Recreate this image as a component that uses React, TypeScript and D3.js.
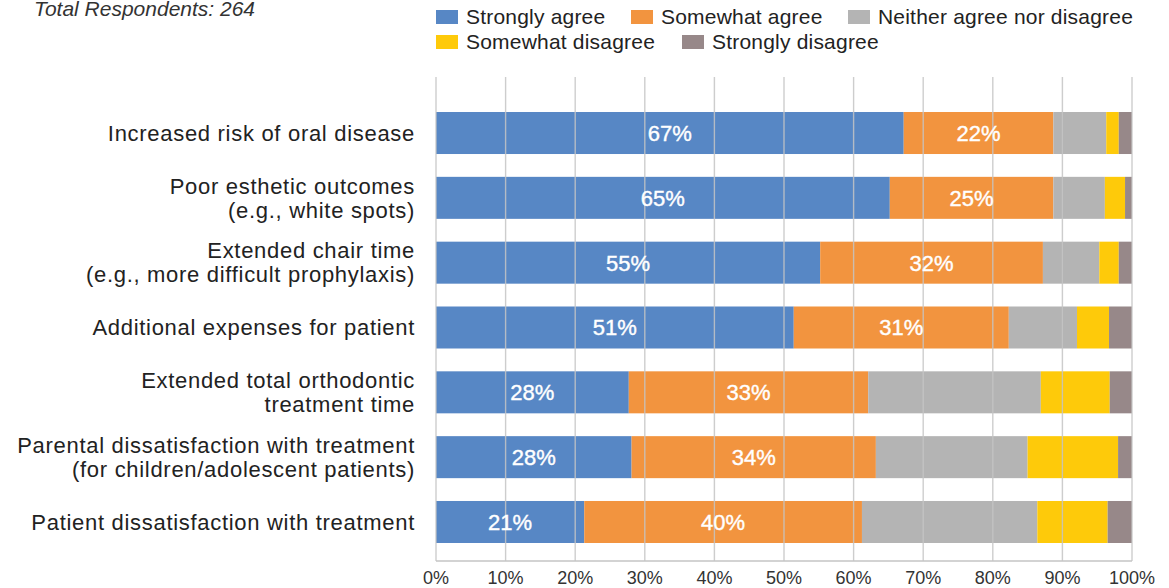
import React from 'react';
import * as d3 from 'd3';

const categories: string[][] = [
  ['Increased risk of oral disease'],
  ['Poor esthetic outcomes', '(e.g., white spots)'],
  ['Extended chair time', '(e.g., more difficult prophylaxis)'],
  ['Additional expenses for patient'],
  ['Extended total orthodontic', 'treatment time'],
  ['Parental dissatisfaction with treatment', '(for children/adolescent patients)'],
  ['Patient dissatisfaction with treatment'],
];

const seriesNames = [
  'Strongly agree',
  'Somewhat agree',
  'Neither agree nor disagree',
  'Somewhat disagree',
  'Strongly disagree',
];
const seriesColors = ['#5787C5', '#F2943F', '#B4B4B4', '#FECA0A', '#978889'];

const stronglyAgree = [67.2, 65.2, 55.2, 51.4, 27.7, 28.1, 21.3];
const somewhatAgree = [21.5, 23.5, 32.0, 30.9, 34.4, 35.1, 39.9];
const neither = [7.6, 7.4, 8.1, 9.8, 24.8, 21.8, 25.2];
const somewhatDisagree = [1.8, 2.9, 2.8, 4.6, 9.9, 13.0, 10.1];
const stronglyDisagree = [1.9, 1.0, 1.9, 3.3, 3.2, 2.0, 3.5];

const stronglyAgreeLabels = ['67%', '65%', '55%', '51%', '28%', '28%', '21%'];
const somewhatAgreeLabels = ['22%', '25%', '32%', '31%', '33%', '34%', '40%'];

const xTicks = [0, 10, 20, 30, 40, 50, 60, 70, 80, 90, 100];
const subtitle = 'Total Respondents: 264';

const FONT = '"Liberation Sans", Arial, Helvetica, sans-serif';
const W = 1169;
const H = 588;

export default function App() {
  const keys = ['sa', 'swa', 'n', 'swd', 'sd'];
  const rows = categories.map((c, i) => ({
    idx: i,
    sa: stronglyAgree[i],
    swa: somewhatAgree[i],
    n: neither[i],
    swd: somewhatDisagree[i],
    sd: stronglyDisagree[i],
  }));
  const stacked = d3.stack<any>().keys(keys)(rows);
  const valueLabels = [stronglyAgreeLabels, somewhatAgreeLabels];

  const x = d3.scaleLinear().domain([0, 100]).range([436, 1132]);
  const y = d3
    .scaleBand<number>()
    .domain(categories.map((_, i) => i))
    .range([100.6, 554.4])
    .paddingInner(0.352)
    .paddingOuter(0.176);

  const plotTop = 77;
  const plotBottom = 561;

  const legendItems = [
    { x: 436, y: 17 },
    { x: 631, y: 17 },
    { x: 848, y: 17 },
    { x: 436, y: 42 },
    { x: 682, y: 42 },
  ];

  return (
    <svg
      width={W}
      height={H}
      style={{ position: 'absolute', left: 0, top: 0, background: '#fff' }}
      fontFamily={FONT}
    >
      <text x={34} y={16} fontSize={21} fontStyle="italic" fill="#333">
        {subtitle}
      </text>

      {seriesNames.map((name, i) => (
        <g key={name}>
          <rect x={legendItems[i].x} y={legendItems[i].y - 7} width={22} height={14} fill={seriesColors[i]} />
          <text
            x={legendItems[i].x + 30}
            y={legendItems[i].y}
            dy="0.35em"
            fontSize={21}
            letterSpacing={0.2}
            fill="#222"
          >
            {name}
          </text>
        </g>
      ))}

      {stacked.map((layer, si) => (
        <g key={layer.key} fill={seriesColors[si]}>
          {layer.map((d: any, i: number) => (
            <rect
              key={i}
              x={x(d[0])}
              y={y(i)}
              width={x(d[1]) - x(d[0])}
              height={y.bandwidth()}
            />
          ))}
        </g>
      ))}

      {xTicks.map((t) => (
        <line
          key={t}
          x1={x(t)}
          x2={x(t)}
          y1={plotTop}
          y2={plotBottom}
          stroke="#c4c4c4"
          strokeWidth={1.4}
          strokeOpacity={0.85}
        />
      ))}
      <line x1={x(0)} x2={x(100)} y1={plotBottom} y2={plotBottom} stroke="#c4c4c4" strokeWidth={1.4} />

      {stacked.slice(0, 2).map((layer, si) => (
        <g key={'lab' + layer.key}>
          {layer.map((d: any, i: number) => (
            <text
              key={i}
              x={(x(d[0]) + x(d[1])) / 2}
              y={(y(i) as number) + y.bandwidth() / 2}
              dy="0.36em"
              textAnchor="middle"
              fontSize={22}
              fill="#fff"
              stroke="#fff"
              strokeWidth={0.4}
            >
              {valueLabels[si][i]}
            </text>
          ))}
        </g>
      ))}

      {categories.map((lines, i) => {
        const cy = (y(i) as number) + y.bandwidth() / 2;
        const lh = 24;
        const start = cy - ((lines.length - 1) * lh) / 2;
        return (
          <text key={i} textAnchor="end" fontSize={22} fill="#222" letterSpacing={0.7}>
            {lines.map((ln, j) => (
              <tspan key={j} x={415} y={start + j * lh} dy="0.35em">
                {ln}
              </tspan>
            ))}
          </text>
        );
      })}

      {xTicks.map((t) => (
        <text key={'t' + t} x={x(t)} y={584} textAnchor="middle" fontSize={18} fill="#333">
          {t + '%'}
        </text>
      ))}
    </svg>
  );
}
